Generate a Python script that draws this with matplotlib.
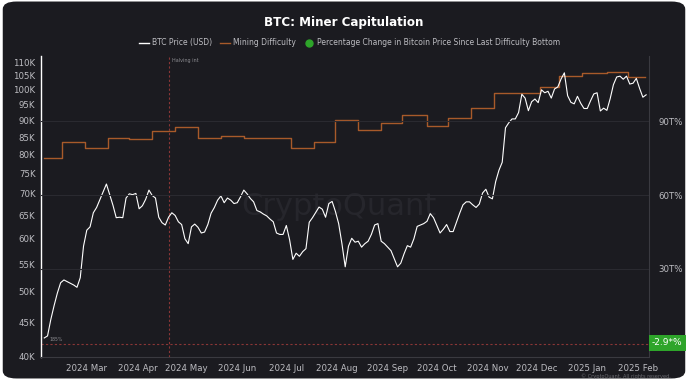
import matplotlib
matplotlib.use("Agg")
import matplotlib.pyplot as plt
from matplotlib.patches import FancyBboxPatch
from matplotlib.lines import Line2D
import numpy as np
import pandas as pd

# ---------------- data ----------------
price_start = "2024-02-04"
price_step = "2D"
btc_price_k = [
    42.7, 43.0, 45.5, 47.7, 49.8, 51.6, 52.1, 51.8, 51.5, 51.2,
    50.8, 52.5, 58.5, 61.8, 62.5, 65.6, 66.8, 68.6, 70.5, 72.4,
    69.8, 67.3, 64.5, 64.6, 64.5, 69.0, 70.0, 69.8, 70.1, 66.5,
    67.2, 68.7, 70.9, 69.6, 69.0, 64.6, 63.4, 62.9, 64.6, 65.6,
    65.0, 63.6, 63.0, 60.0, 59.0, 62.5, 63.1, 62.4, 61.2, 61.4,
    63.0, 65.5, 66.8, 68.5, 69.5, 67.9, 69.0, 68.5, 67.7, 67.9,
    69.3, 70.9, 70.0, 68.9, 68.1, 66.1, 65.8, 65.3, 64.9, 64.2,
    63.6, 61.2, 60.9, 60.9, 62.8, 59.8, 55.9, 57.1, 56.5, 57.4,
    58.0, 63.5, 64.5, 65.7, 66.9, 66.4, 64.6, 67.7, 68.2, 65.9,
    63.2, 59.0, 54.5, 58.5, 60.1, 59.3, 59.5, 58.3, 59.0, 59.5,
    60.9, 62.9, 63.2, 59.5, 59.0, 58.3, 57.6, 56.0, 54.5, 55.2,
    57.0, 58.6, 58.3, 60.0, 62.6, 62.9, 63.2, 63.7, 65.4, 64.5,
    62.8, 61.2, 62.0, 63.0, 61.5, 61.5, 63.5, 65.5, 67.4, 68.1,
    68.1, 67.4, 66.8, 67.6, 70.2, 71.1, 69.2, 68.8, 73.0, 75.9,
    78.0, 87.8, 89.3, 90.5, 90.5, 92.5, 98.5, 97.2, 93.1, 96.0,
    96.9, 95.7, 100.0, 99.0, 99.5, 97.2, 100.3, 101.0, 103.8, 106.0,
    98.0, 95.8, 95.3, 97.8, 95.5, 93.8, 93.8, 96.3, 98.6, 99.0,
    93.0, 93.9, 93.2, 97.0, 101.8, 104.5, 104.8, 103.7, 104.8, 102.0,
    102.3, 104.0, 100.5, 97.5, 98.3,
]

difficulty_dates = [
    "2024-02-04", "2024-02-15", "2024-02-29", "2024-03-14", "2024-03-27",
    "2024-04-10", "2024-04-24", "2024-05-08", "2024-05-22", "2024-06-05",
    "2024-07-04", "2024-07-18", "2024-07-31", "2024-08-14", "2024-08-28",
    "2024-09-10", "2024-09-25", "2024-10-08", "2024-10-22", "2024-11-05",
    "2024-12-03", "2024-12-15", "2024-12-29", "2025-01-13", "2025-01-26",
    "2025-02-05",
]
# difficulty drawn on the price scale (K)
difficulty_k = [
    79.1, 83.6, 81.9, 84.8, 84.5, 86.8, 88.0, 84.8, 85.3, 84.8,
    81.9, 83.6, 90.2, 87.1, 89.2, 91.7, 88.3, 90.8, 93.9, 98.9,
    101.0, 104.8, 105.9, 106.3, 104.5, 104.5,
]

left_ticks_k = [40, 45, 50, 55, 60, 65, 70, 75, 80, 85, 90, 95, 100, 105, 110]
right_ticks = [30, 60, 90]
right_tick_labels = ["30T%", "60T%", "90T%"]
last_pct_label = "-2.9*%"
halving_date = "2024-04-20"
bottom_level_k = 41.8
month_ticks = pd.date_range("2024-03-01", "2025-02-01", freq="MS")

# ---------------- style ----------------
BG = "#1b1b20"
TXT = "#bdbdc2"
DIFF_C = "#a85a2a"
RED_DOT = "#8a3636"

fig = plt.figure(figsize=(6.88, 3.80), dpi=100)
fig.patch.set_facecolor("white")
fig.patches.append(FancyBboxPatch((0.004, 0.004), 0.992, 0.992,
                                  boxstyle="round,pad=0,rounding_size=0.02",
                                  transform=fig.transFigure, facecolor=BG,
                                  edgecolor="none", zorder=-10))

ax = fig.add_axes([41/688, 1-357/380, (649-41)/688, (357-56)/380])
ax.set_facecolor(BG)

# watermark inside the plot
ax.text(0.49, 0.5, "CryptoQuant", transform=ax.transAxes, color="#26262c",
        fontsize=22, ha="center", va="center", zorder=0)

dates = pd.date_range(price_start, periods=len(btc_price_k), freq=price_step)
price = np.array(btc_price_k) * 1000
ax.plot(dates, price, color="white", lw=0.8, zorder=4)

ddates = pd.to_datetime(difficulty_dates)
ax.plot(ddates, np.array(difficulty_k) * 1000, color=DIFF_C, lw=1.0,
        drawstyle="steps-post", zorder=3)

ax.set_yscale("log")
ax.set_ylim(40000, 112300)
ax.set_yticks([v * 1000 for v in left_ticks_k])
ax.set_yticklabels([f"{v}K" for v in left_ticks_k])
ax.yaxis.set_minor_locator(matplotlib.ticker.NullLocator())
ax.set_xlim(pd.Timestamp("2024-02-02"), pd.Timestamp("2025-02-07 18:00"))
ax.set_xticks(month_ticks)
ax.set_xticklabels([d.strftime("%Y %b") for d in month_ticks])

ax.tick_params(axis="both", colors=TXT, labelsize=6.2, length=0)
ax.tick_params(axis="x", pad=5)
ax.tick_params(axis="y", pad=4)
for s in ["top", "right"]:
    ax.spines[s].set_visible(False)
ax.spines["left"].set_color("white")
ax.spines["left"].set_linewidth(1.0)
ax.spines["bottom"].set_color("#3a3a40")
ax.spines["bottom"].set_linewidth(0.8)

# right axis (percentage)
ax2 = ax.twinx()
ax2.set_ylim(-5.7, 116.4)
ax2.set_yticks(right_ticks)
ax2.set_yticklabels(right_tick_labels)
ax2.tick_params(axis="y", colors=TXT, labelsize=6.2, length=0, pad=7)
for s in ["top", "left", "bottom"]:
    ax2.spines[s].set_visible(False)
ax2.spines["right"].set_color("#3a3a40")
ax2.spines["right"].set_linewidth(0.8)
for t in right_ticks:
    ax2.axhline(t, color="#2a2a30", lw=0.8, zorder=0)

# bottom dotted line and halving line
ax.axhline(bottom_level_k * 1000, color=RED_DOT, lw=0.8, ls=(0, (2, 2)), zorder=2)
ax.axvline(pd.Timestamp(halving_date), color=RED_DOT, lw=0.8, ls=(0, (2, 2)), zorder=2)
ax.text(pd.Timestamp(halving_date) + pd.Timedelta(days=2), 110500, "Halving int",
        color="#8d8d92", fontsize=3.5, va="center", ha="left")
ax.text(pd.Timestamp("2024-02-07"), bottom_level_k * 1000 * 1.008, "185%",
        color="#8d8d92", fontsize=3.3, va="bottom", ha="left")

ax2.text(1.005, 0, last_pct_label, transform=ax2.get_yaxis_transform(),
         color="white", fontsize=6.5, va="center", ha="left", zorder=10,
         bbox=dict(boxstyle="square,pad=0.35", facecolor="#2ea52a", edgecolor="none"),
         clip_on=False)

# title and legend
fig.text(0.5, 0.942, "BTC: Miner Capitulation", color="white", fontsize=8.6,
         fontweight="bold", ha="center", va="center")
handles = [
    Line2D([], [], color="white", lw=1.0),
    Line2D([], [], color=DIFF_C, lw=1.0),
    Line2D([], [], color="#2ea52a", lw=0, marker="o", markersize=5),
]
labels = ["BTC Price (USD)", "Mining Difficulty",
          "Percentage Change in Bitcoin Price Since Last Difficulty Bottom"]
fig.legend(handles, labels, loc="center", bbox_to_anchor=(0.508, 0.887),
           ncol=3, frameon=False, fontsize=5.5, handlelength=1.3,
           handletextpad=0.4, columnspacing=1.0, labelcolor=TXT)

fig.text(0.975, 0.003, "© CryptoQuant. All rights reserved.", color="#6a6a70",
         fontsize=3.6, ha="right", va="bottom")

fig.savefig("out.png", dpi=100, facecolor=fig.get_facecolor())
